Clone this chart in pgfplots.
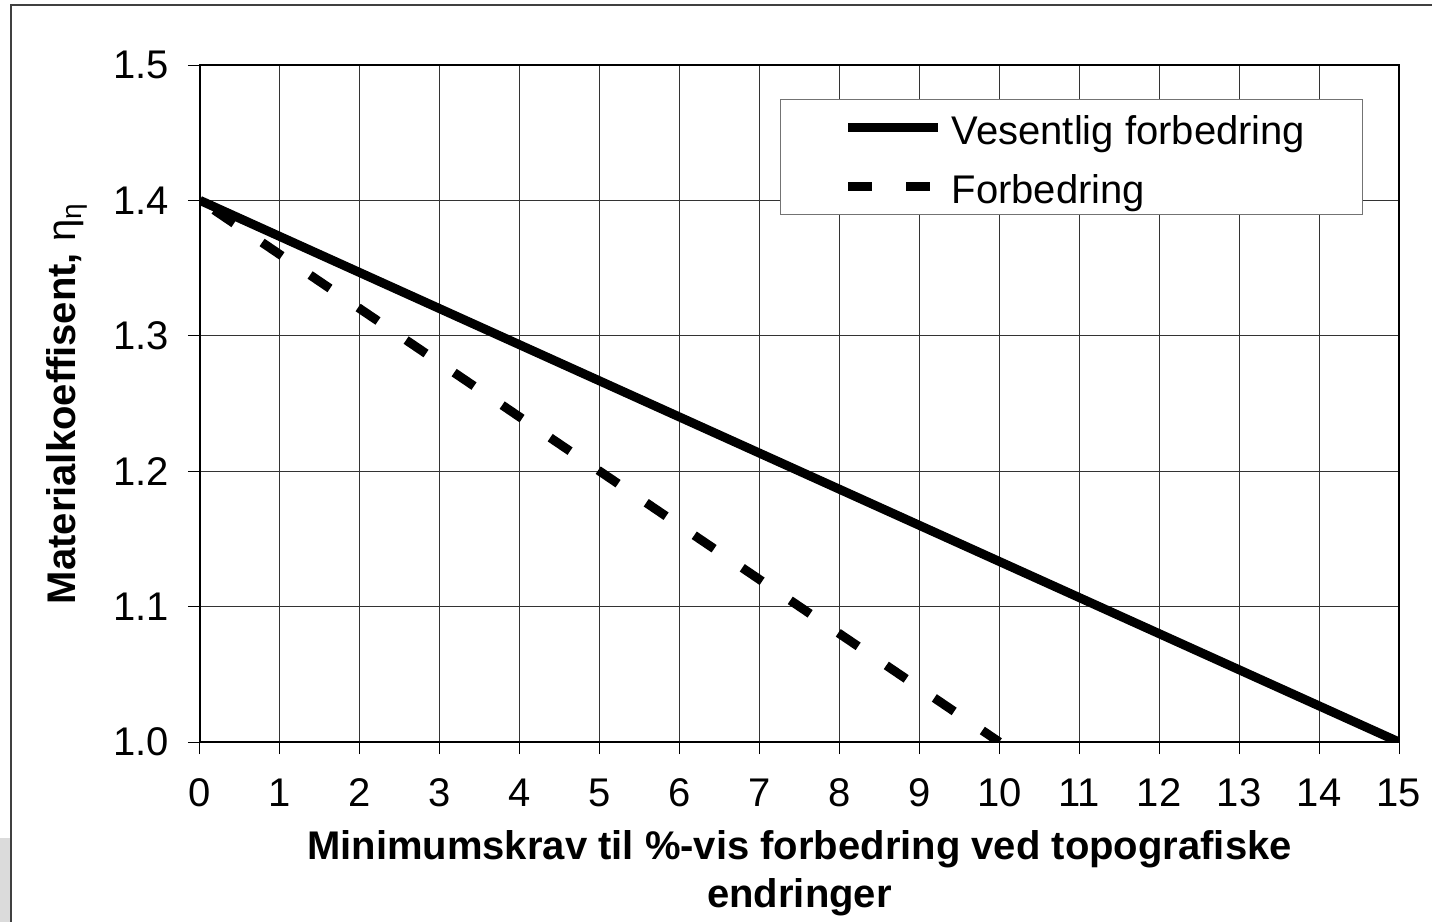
\documentclass[border=0pt]{standalone}
\usepackage{fontspec}
\setmainfont{Liberation Sans}
\usepackage{pgfplots}
\pgfplotsset{compat=1.18}
\begin{document}
\begin{tikzpicture}[x=1pt,y=1pt]
\path[use as bounding box] (-100,-90) rectangle (616,371);
\fill[black!14] (-100,-90) rectangle (-94.5,-48);
\draw[black!75, line width=0.75pt] (-94.5,-90) -- (-94.5,368.5) -- (616,368.5);
\begin{axis}[at={(0,0)}, anchor=south west, scale only axis,
  width=599.5pt, height=338.5pt,
  xmin=0, xmax=15, ymin=1, ymax=1.5,
  xtick={0,1,...,15}, ytick={1.0,1.1,1.2,1.3,1.4,1.5},
  xtick pos=bottom, ytick pos=left,
  grid=major, major grid style={black!80, line width=0.5pt},
  axis line style={black, line width=0.6pt},
  tick align=outside, major tick length=6pt,
  tick style={black, line width=0.5pt},
  every tick label/.append style={font=\fontsize{20}{24}\selectfont},
  xticklabel style={yshift=-9pt},
  yticklabel style={xshift=-6pt},
  /pgf/number format/assume math mode=true,
  yticklabel style={/pgf/number format/.cd, fixed, fixed zerofill, precision=1},
  xlabel={Minimumskrav til \%-vis forbedring ved topografiske\\endringer},
  xlabel style={font=\bfseries\fontsize{20}{24}\selectfont, align=center,
    at={(axis description cs:0.5,0)}, anchor=north, inner sep=0pt, yshift=-44pt},
  ylabel={Materialkoeffisent, {\mdseries η\textsubscript{η}}},
  ylabel style={font=\bfseries\fontsize{20}{24}\selectfont,
    at={(axis description cs:-0.111,0.5)}, anchor=center},
  legend style={at={(0.970,0.950)}, anchor=north east, draw=black!55,
    line width=0.75pt, fill=white, font=\fontsize{20}{24}\selectfont,
    inner xsep=26.5pt, inner ysep=3.5pt, row sep=8.4pt,
    nodes={text height=17pt, text depth=0pt}},
  legend cell align=left,
  reverse legend,
  legend image code/.code={\draw[#1, dash phase=0pt] (0pt,0pt) -- (45pt,0pt); \path (-5pt,0pt) (47.5pt,0pt);},
]
\addplot[black, line width=4.5pt, dash pattern=on 12pt off 17pt, dash phase=20.5pt] coordinates {(0,1.4) (10,1.0)};
\addplot[black, line width=4.5pt] coordinates {(0,1.4) (15,1.0)};
\legend{Forbedring, Vesentlig forbedring}
\end{axis}
\end{tikzpicture}
\end{document}
